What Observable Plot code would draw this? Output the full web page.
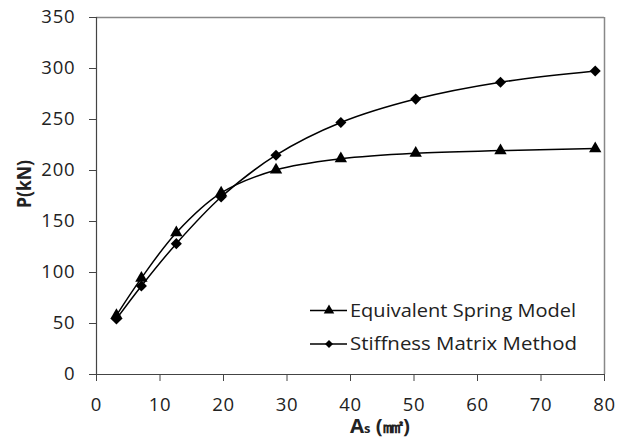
<!DOCTYPE html>
<html>
<head>
<meta charset="utf-8">
<script src="https://cdn.jsdelivr.net/npm/d3@7"></script>
<script src="https://cdn.jsdelivr.net/npm/@observablehq/plot@0.6"></script>
<style>
  html, body { margin: 0; padding: 0; background: #fff; }
</style>
</head>
<body>
<div id="chart"></div>
<script>
const areas = [3.14, 7.07, 12.57, 19.63, 28.27, 38.48, 50.27, 63.62, 78.54];
const springModel = [58, 94.5, 139, 178, 200.5, 211.5, 217, 219.5, 221.5];
const stiffnessMatrix = [54.5, 86.8, 128.3, 174, 215, 247, 270, 286.5, 297.5];
const xTicks = [0, 10, 20, 30, 40, 50, 60, 70, 80];
const yTicks = [0, 50, 100, 150, 200, 250, 300, 350];
const seriesNames = ["Equivalent Spring Model", "Stiffness Matrix Method"];

const spring = areas.map((a, i) => ({x: a, y: springModel[i]}));
const stiff = areas.map((a, i) => ({x: a, y: stiffnessMatrix[i]}));

const font = "'Open Sans', 'DejaVu Sans', sans-serif";

const chart = Plot.plot({
  width: 617,
  height: 443,
  marginLeft: 96,
  marginRight: 13,
  marginTop: 17,
  marginBottom: 69,
  style: {fontFamily: font, fontSize: "18.5px", color: "#222", background: "#fff", letterSpacing: "0.8px"},
  x: {domain: [0, 80]},
  y: {domain: [0, 350]},
  marks: [
    Plot.ruleY([350], {stroke: "#888", strokeWidth: 1.5}),
    Plot.ruleX([80], {stroke: "#888", strokeWidth: 1.5}),
    Plot.axisX({ticks: xTicks, tickSize: 7, tickPadding: 16, label: null, stroke: "#444", fontSize: 18.5}),
    Plot.axisY({ticks: yTicks, tickSize: 7, tickPadding: 14, label: null, stroke: "#444", fontSize: 18.5}),
    Plot.ruleX([0], {stroke: "#444", strokeWidth: 1.2}),
    Plot.ruleY([0], {stroke: "#444", strokeWidth: 1.2}),
    Plot.line(spring, {x: "x", y: "y", curve: "catmull-rom", stroke: "black", strokeWidth: 1.5}),
    Plot.line(stiff, {x: "x", y: "y", curve: "catmull-rom", stroke: "black", strokeWidth: 1.5}),
    Plot.dot(spring, {x: "x", y: "y", symbol: "triangle", r: 4.6, fill: "black", stroke: "none"}),
    Plot.dot(stiff, {x: "x", y: "y", symbol: "diamond2", r: 5, fill: "black", stroke: "none"})
  ]
});

document.getElementById("chart").appendChild(chart);

const svg = d3.select(chart);

// Y axis title
svg.append("text")
  .attr("transform", "translate(31,184) rotate(-90)")
  .attr("text-anchor", "middle")
  .attr("font-family", font)
  .attr("font-size", 20)
  .attr("font-weight", "bold")
  .attr("letter-spacing", "0")
  .attr("fill", "#222")
  .attr("textLength", 48)
  .attr("lengthAdjust", "spacingAndGlyphs")
  .text("P(kN)");

// X axis title with subscript
const xt = svg.append("text")
  .attr("x", 380)
  .attr("y", 433)
  .attr("text-anchor", "middle")
  .attr("font-family", font)
  .attr("font-size", 19)
  .attr("font-weight", "bold")
  .attr("letter-spacing", "0")
  .attr("fill", "#222")
  .attr("textLength", 60)
  .attr("lengthAdjust", "spacingAndGlyphs");
xt.append("tspan").text("A");
xt.append("tspan").attr("font-size", 12).text("s");
xt.append("tspan").text(" (㎟)");

// Legend
const legendRows = [
  {name: seriesNames[0], y: 310.5, sym: d3.symbolTriangle, size: 48, len: 226},
  {name: seriesNames[1], y: 344, sym: d3.symbolSquare, size: 32, rot: 45, len: 227}
];
const lg = svg.append("g");
legendRows.forEach(r => {
  lg.append("line").attr("x1", 310).attr("x2", 347).attr("y1", r.y).attr("y2", r.y)
    .attr("stroke", "black").attr("stroke-width", 1.5);
  lg.append("path").attr("d", d3.symbol(r.sym, r.size)())
    .attr("transform", `translate(329,${r.y})` + (r.rot ? ` rotate(${r.rot})` : ""))
    .attr("fill", "black");
  lg.append("text").attr("x", 350).attr("y", r.y).attr("dy", "0.35em")
    .attr("text-anchor", "start")
    .attr("font-family", font).attr("font-size", 18.5).attr("fill", "#222")
    .attr("letter-spacing", "0")
    .attr("textLength", r.len).attr("lengthAdjust", "spacingAndGlyphs")
    .text(r.name);
});
</script>
</body>
</html>
